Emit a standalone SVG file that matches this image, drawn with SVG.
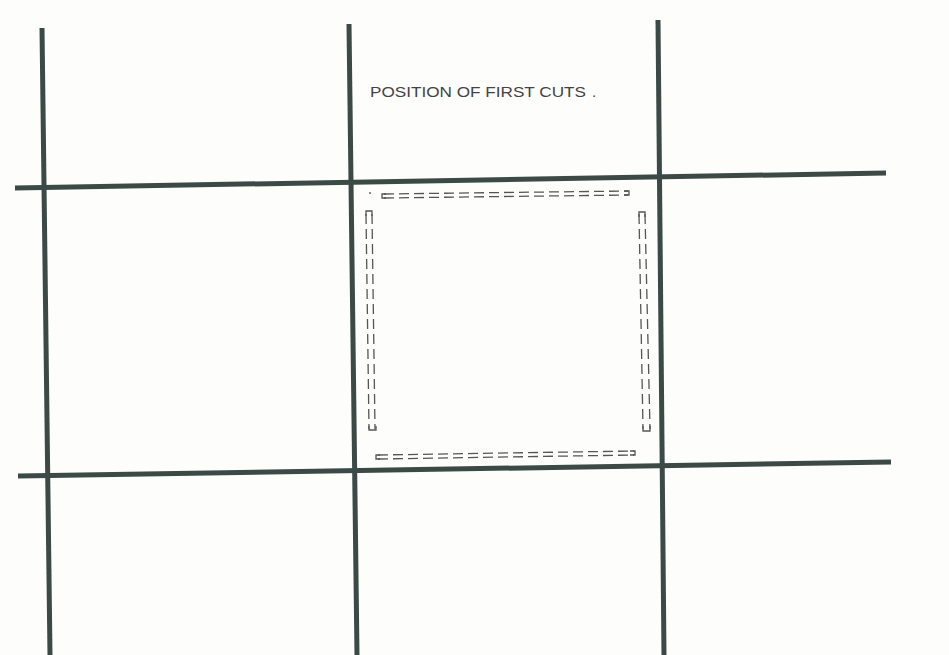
<svg xmlns="http://www.w3.org/2000/svg" width="949" height="655" viewBox="0 0 949 655">
<style>
.grid{stroke:#3b4a47;stroke-width:5;stroke-linecap:butt;fill:none}
.cut{stroke:#555;stroke-width:1.3;fill:none;stroke-dasharray:10 5}
.cap{stroke:#555;stroke-width:1.3;fill:none}
.lbl{font-family:"Liberation Sans","DejaVu Sans",sans-serif;font-size:15px;fill:#444}
</style>
<rect width="949" height="655" fill="#fdfdfb"/>
<g id="grid">
<line class="grid" x1="42" y1="28" x2="50" y2="655"/>
<line class="grid" x1="349" y1="24" x2="357" y2="655"/>
<line class="grid" x1="658" y1="20" x2="664" y2="655"/>
<line class="grid" x1="15" y1="188" x2="886" y2="173"/>
<line class="grid" x1="18" y1="476" x2="891" y2="462"/>
</g>
<g id="label">
<text class="lbl" x="370" y="97" textLength="216" lengthAdjust="spacingAndGlyphs">POSITION OF FIRST CUTS</text>
<text class="lbl" x="592" y="97">.</text>
</g>
<g id="cuts">
<circle cx="370" cy="193" r="0.9" fill="#555"/>
<path class="cut" d="M384 194 L628 191"/>
<path class="cut" d="M384 198 L628 195"/>
<path class="cap" d="M386 194 L382 194 L382 198 L386 198"/>
<path class="cap" d="M624 191 L629 191 L629 195 L624 195"/>
<path class="cut" d="M366 214 L369 429"/>
<path class="cut" d="M372 214 L375 429"/>
<path class="cap" d="M366 216 L366 211 L372 211 L372 216"/>
<path class="cap" d="M369 426 L369 430 L376 430 L376 426"/>
<path class="cut" d="M639 214 L643 429"/>
<path class="cut" d="M645 214 L650 429"/>
<path class="cap" d="M639 217 L639 212 L645 212 L645 217"/>
<path class="cap" d="M643 426 L643 431 L650 431 L650 426"/>
<path class="cut" d="M378 455 L634 451"/>
<path class="cut" d="M378 459 L634 455"/>
<path class="cap" d="M380 455 L376 455 L376 459 L380 459"/>
<path class="cap" d="M630 451 L635 451 L635 455 L630 455"/>
</g>
</svg>
